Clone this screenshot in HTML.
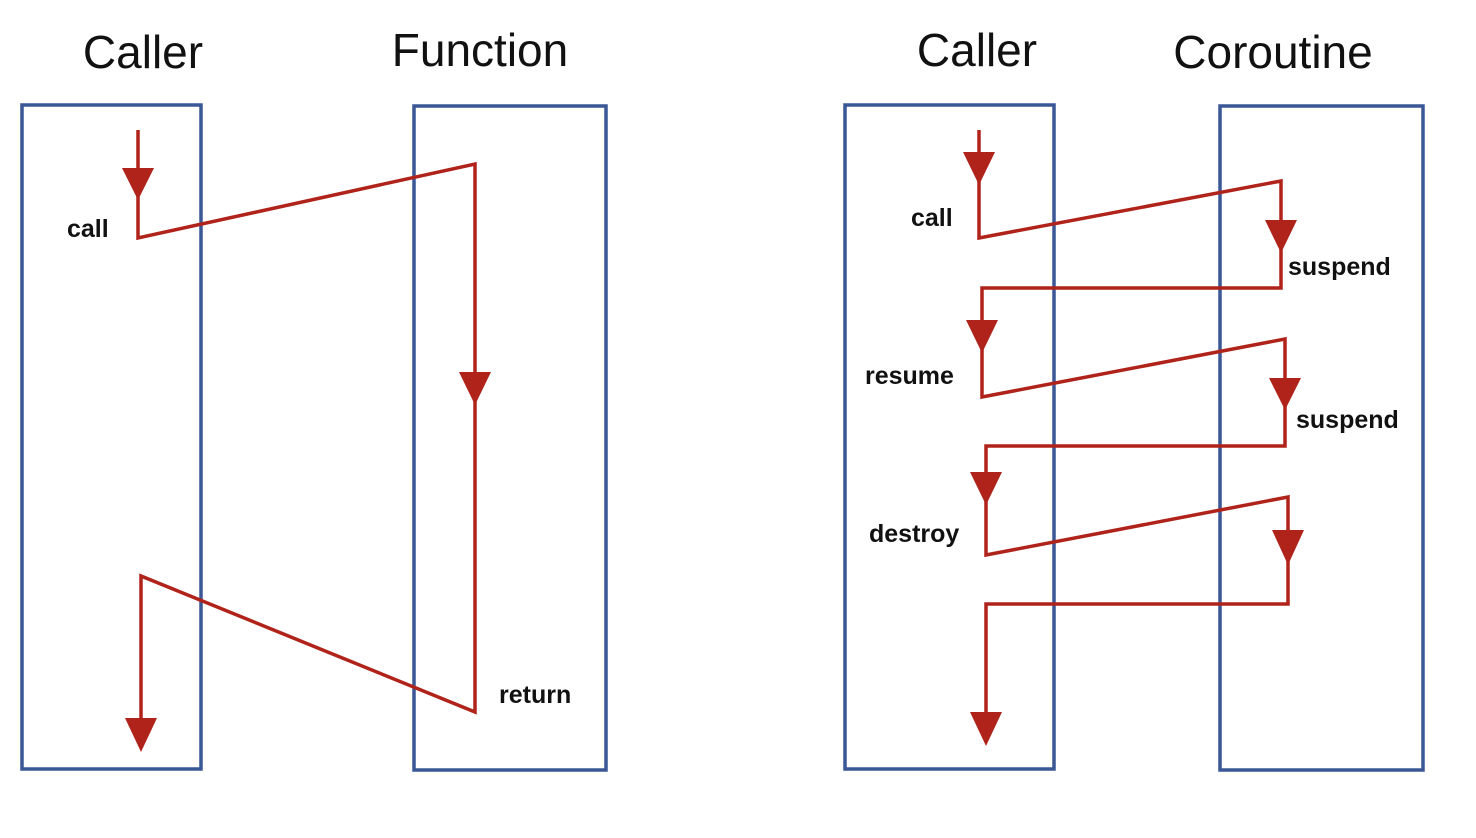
<!DOCTYPE html>
<html><head><style>body{margin:0;background:#fff}svg{display:block}</style></head><body>
<svg width="1476" height="838" viewBox="0 0 1476 838" xmlns="http://www.w3.org/2000/svg">
<g font-family="Liberation Sans, sans-serif" font-size="46" fill="#111" text-anchor="middle">
<text x="143" y="68">Caller</text>
<text x="480" y="66">Function</text>
<text x="977" y="66">Caller</text>
<text x="1273" y="68">Coroutine</text>
</g>
<g fill="none" stroke="#3a5796" stroke-width="3.5">
<rect x="22" y="105" width="179" height="664"/>
<rect x="414" y="106" width="192" height="664"/>
<rect x="845" y="105" width="209" height="664"/>
<rect x="1220" y="106" width="203" height="664"/>
</g>
<g fill="none" stroke="#b0231a" stroke-width="3.5" stroke-linejoin="miter">
<polyline points="138,130 138,238 475,164 475,712 141,576 141,735"/>
<polyline points="979,130 979,238 1281,181 1281,288 982,288 982,397 1285,339 1285,446 986,446 986,555 1288,497 1288,604 986,604 986,730"/>
</g>
<g fill="#b0231a">
<polygon points="122,168 154,168 138,200"/>
<polygon points="459,372 491,372 475,405"/>
<polygon points="125,718 157,718 141,752"/>
<polygon points="963,152 995,152 979,185"/>
<polygon points="1265,220 1297,220 1281,253"/>
<polygon points="966,320 998,320 982,353"/>
<polygon points="1269,378 1301,378 1285,410"/>
<polygon points="970,472 1002,472 986,505"/>
<polygon points="1272,530 1304,530 1288,565"/>
<polygon points="970,712 1002,712 986,746"/>
</g>
<g font-family="Liberation Sans, sans-serif" font-size="25" font-weight="bold" fill="#111">
<text x="67" y="237">call</text>
<text x="499" y="703">return</text>
<text x="911" y="226">call</text>
<text x="1288" y="275">suspend</text>
<text x="865" y="384">resume</text>
<text x="1296" y="428">suspend</text>
<text x="869" y="542">destroy</text>
</g>
</svg>
</body></html>
